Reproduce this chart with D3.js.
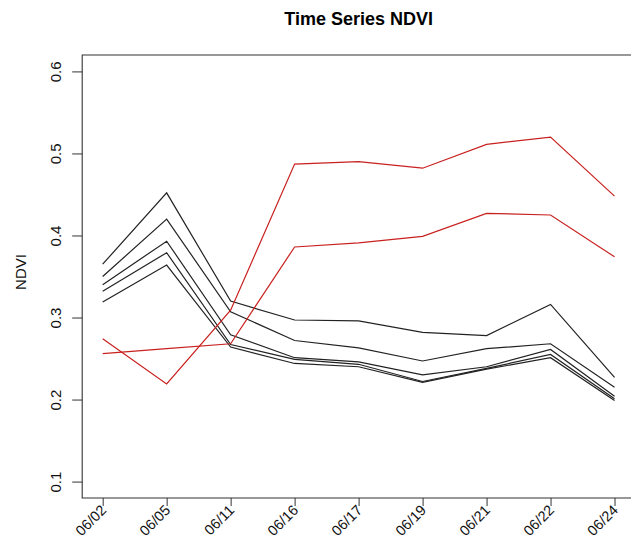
<!DOCTYPE html>
<html><head><meta charset="utf-8">
<script src="https://cdn.jsdelivr.net/npm/d3@7"></script>
<style>body{margin:0;background:#fff}svg{display:block}</style>
</head><body>
<svg id="c" width="631" height="540"></svg>
<script>
const dates = ["06/02","06/05","06/11","06/16","06/17","06/19","06/21","06/22","06/24"];
const yTicks = [0.1,0.2,0.3,0.4,0.5,0.6];
const black1 = [0.365,0.452,0.320,0.297,0.296,0.282,0.278,0.316,0.227];
const black2 = [0.350,0.420,0.307,0.272,0.263,0.247,0.262,0.268,0.215];
const black3 = [0.340,0.393,0.279,0.251,0.246,0.230,0.240,0.261,0.204];
const black4 = [0.332,0.379,0.267,0.249,0.243,0.222,0.238,0.255,0.201];
const black5 = [0.319,0.364,0.264,0.244,0.240,0.221,0.237,0.251,0.199];
const red1 = [0.274,0.219,0.309,0.487,0.490,0.482,0.511,0.520,0.448];
const red2 = [0.256,0.262,0.268,0.386,0.391,0.399,0.427,0.425,0.374];
const blackSeries = [black1,black2,black3,black4,black5];
const redSeries = [red1,red2];

const svg = d3.select("#c");
const L = 82.2, R = 635, T = 55, B = 498;
const x = d3.scaleLinear().domain([-0.32, dates.length - 1 + 0.32]).range([L, R]);
const y = d3.scaleLinear().domain([0.08, 0.62]).range([B, T]);
const font = "Liberation Sans, Arial, Helvetica, sans-serif";

// frame
svg.append("path").attr("d", `M${R},${T}H${L}V${B}H${R}`)
  .attr("fill","none").attr("stroke","#333").attr("stroke-width",1.1);

// y axis
const ya = svg.append("g").attr("transform", `translate(${L},0)`)
  .call(d3.axisLeft(y).tickValues(yTicks).tickSize(10).tickSizeOuter(0).tickFormat(d3.format(".1f")));
ya.select(".domain").remove();
ya.selectAll(".tick line").attr("stroke","#333");
ya.selectAll(".tick text").attr("font-family", font).attr("font-size", 15).attr("fill","#111")
  .attr("x", 0).attr("dy", 0).attr("text-anchor","middle")
  .attr("transform", "translate(-21,0) rotate(-90)").attr("y", 0);

// x axis
const xa = svg.append("g").attr("transform", `translate(0,${B})`)
  .call(d3.axisBottom(x).tickValues(d3.range(dates.length)).tickSize(8).tickSizeOuter(0).tickFormat(i => dates[i]));
xa.select(".domain").remove();
xa.selectAll(".tick line").attr("stroke","#333");
xa.selectAll(".tick text").attr("font-family", font).attr("font-size", 14.5).attr("fill","#111")
  .attr("x", 0).attr("y", 0).attr("dy", 0).attr("text-anchor","end")
  .attr("transform", "translate(4,13) rotate(-45)");

// lines
const line = d3.line().x((d,i) => x(i)).y(d => y(d));
svg.append("g").selectAll("path").data(blackSeries).join("path")
  .attr("d", line).attr("fill","none").attr("stroke","#222").attr("stroke-width",1.2);
svg.append("g").selectAll("path").data(redSeries).join("path")
  .attr("d", line).attr("fill","none").attr("stroke","#c8211f").attr("stroke-width",1.2);

// title
svg.append("text").attr("x", (L+R)/2).attr("y", 25).attr("text-anchor","middle")
  .attr("font-family", font).attr("font-weight","bold").attr("font-size", 18).attr("fill","#000")
  .text("Time Series NDVI");

// y label
svg.append("text").attr("transform", `translate(26,272) rotate(-90)`).attr("text-anchor","middle")
  .attr("font-family", font).attr("font-size", 15).attr("fill","#111").text("NDVI");
</script>
</body></html>
